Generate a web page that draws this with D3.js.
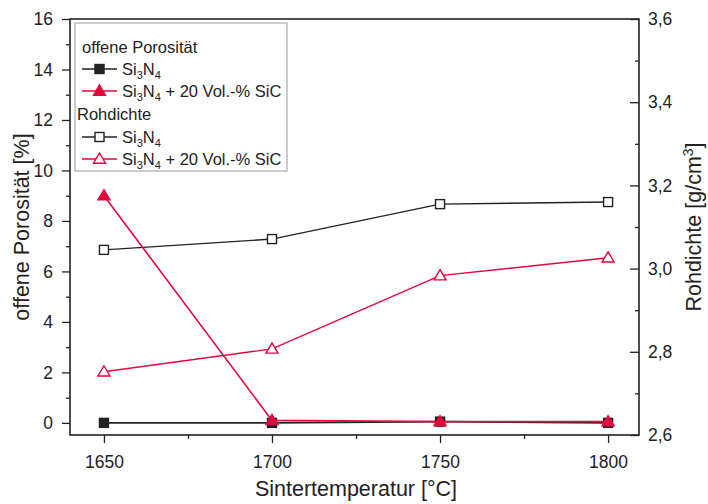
<!DOCTYPE html>
<html><head><meta charset="utf-8">
<script src="https://cdn.jsdelivr.net/npm/d3@7"></script>
<style>body{margin:0;background:#fff}text{font-family:"Liberation Sans",Arial,sans-serif}</style>
</head><body><svg id="c" width="708" height="504"></svg>
<script>
const temps = [1650, 1700, 1750, 1800];
const porSi3N4 = [0, 0, 0.05, 0];
const porSiC = [9.0, 0.1, 0.05, 0.05];
const densSi3N4 = [3.045, 3.071, 3.155, 3.16];
const densSiC = [2.752, 2.807, 2.983, 3.026];
const xTicks = [1650, 1700, 1750, 1800];
const yLeftTicks = [0, 2, 4, 6, 8, 10, 12, 14, 16];
const yRightTicks = [2.6, 2.8, 3.0, 3.2, 3.4, 3.6];

const red = "#e2063d";
const L = 70, R = 639, T = 19, B = 435;
const svg = d3.select("#c");
const x = d3.scaleLinear().domain([1639.9, 1809.2]).range([L, R]);
const yL = d3.scaleLinear().domain([-0.48, 16]).range([B, T]);
const yR = d3.scaleLinear().domain([2.6, 3.6]).range([B, T]);
const fmtC = d => d.toFixed(1).replace(".", ",");

// frame
svg.append("rect").attr("x", L).attr("y", T).attr("width", R - L).attr("height", B - T)
  .attr("fill", "none").attr("stroke", "#222").attr("stroke-width", 1.6);

// bottom axis
const gx = svg.append("g").attr("transform", `translate(0,${B})`)
  .call(d3.axisBottom(x).tickValues(xTicks).tickSize(8).tickPadding(8).tickFormat(d3.format("d")));
svg.append("g").attr("transform", `translate(0,${B})`)
  .call(d3.axisBottom(x).tickValues([1675, 1725, 1775]).tickSize(4).tickFormat(""));
// left axis
const gl = svg.append("g").attr("transform", `translate(${L},0)`)
  .call(d3.axisLeft(yL).tickValues(yLeftTicks).tickSize(8).tickPadding(9).tickFormat(d3.format("d")));
svg.append("g").attr("transform", `translate(${L},0)`)
  .call(d3.axisLeft(yL).tickValues([1, 3, 5, 7, 9, 11, 13, 15]).tickSize(4).tickFormat(""));
// right axis (ticks inward)
const gr = svg.append("g").attr("transform", `translate(${R},0)`)
  .call(d3.axisRight(yR).tickValues(yRightTicks).tickSize(-9).tickPadding(9).tickFormat(fmtC));
svg.append("g").attr("transform", `translate(${R},0)`)
  .call(d3.axisRight(yR).tickValues([2.7, 2.9, 3.1, 3.3, 3.5]).tickSize(-4).tickFormat(""));

svg.selectAll(".domain").remove();
svg.selectAll(".tick line").attr("stroke", "#222").attr("stroke-width", 1.3);
svg.selectAll(".tick text").attr("fill", "#222").style("font-size", "17.5px");
gx.selectAll(".tick text").attr("dy", "0.95em");

// axis titles
svg.append("text").attr("transform", `translate(29,${(T + B) / 2}) rotate(-90)`)
  .attr("text-anchor", "middle").style("font-size", "21.5px").attr("fill", "#222").text("offene Porosität [%]");
const rt = svg.append("text").attr("transform", `translate(701,${(T + B) / 2}) rotate(-90)`)
  .attr("text-anchor", "middle").style("font-size", "21.5px").attr("fill", "#222");
rt.append("tspan").text("Rohdichte [g/cm");
rt.append("tspan").attr("dy", -8).style("font-size", "14px").text("3");
rt.append("tspan").attr("dy", 8).text("]");
svg.append("text").attr("x", 356).attr("y", 496).attr("text-anchor", "middle")
  .style("font-size", "21.5px").attr("fill", "#222").text("Sintertemperatur [°C]");

// markers
function marker(g, type, cx, cy, color, filled) {
  if (type === "sq") {
    g.append("rect").attr("x", cx - 4.5).attr("y", cy - 4.5).attr("width", 9).attr("height", 9)
      .attr("fill", filled ? color : "#fff").attr("stroke", color).attr("stroke-width", 1.4);
  } else {
    const s = 6;
    g.append("path").attr("d", `M${cx},${cy - s}L${cx + s},${cy + s * 0.7}L${cx - s},${cy + s * 0.7}Z`)
      .attr("fill", filled ? color : "#fff").attr("stroke", color).attr("stroke-width", 1.4);
  }
}
function series(vals, yS, color, type, filled, lw) {
  const g = svg.append("g");
  const pts = temps.map((t, i) => [x(t), yS(vals[i])]);
  g.append("path").attr("d", d3.line()(pts)).attr("fill", "none").attr("stroke", color).attr("stroke-width", lw);
  pts.forEach(p => marker(g, type, p[0], p[1], color, filled));
}
series(densSi3N4, yR, "#222", "sq", false, 1.4);
series(densSiC, yR, red, "tri", false, 1.4);
series(porSi3N4, yL, "#222", "sq", true, 1.6);
series(porSiC, yL, red, "tri", true, 1.6);

// legend
const lg = svg.append("g");
lg.append("rect").attr("x", 75).attr("y", 23).attr("width", 212).attr("height", 148)
  .attr("fill", "#fff").attr("stroke", "#999").attr("stroke-width", 1);
const items = [
  {y: 47, title: "offene Porosität", tx: 82},
  {y: 69, color: "#222", type: "sq", filled: true, sic: false},
  {y: 91, color: red, type: "tri", filled: true, sic: true},
  {y: 114, title: "Rohdichte", tx: 77},
  {y: 137, color: "#222", type: "sq", filled: false, sic: false},
  {y: 159, color: red, type: "tri", filled: false, sic: true},
];
items.forEach(it => {
  if (it.title) {
    lg.append("text").attr("x", it.tx).attr("y", it.y + 6).style("font-size", "16.5px").attr("fill", "#222").text(it.title);
    return;
  }
  lg.append("line").attr("x1", 82).attr("x2", 117).attr("y1", it.y).attr("y2", it.y)
    .attr("stroke", it.color).attr("stroke-width", 1.5);
  marker(lg, it.type, 99.5, it.y, it.color, it.filled);
  const t = lg.append("text").attr("x", 122).attr("y", it.y + 6).style("font-size", "16.5px").attr("fill", "#222");
  t.append("tspan").text("Si");
  t.append("tspan").attr("dy", 4).style("font-size", "11px").text("3");
  t.append("tspan").attr("dy", -4).text("N");
  t.append("tspan").attr("dy", 4).style("font-size", "11px").text("4");
  if (it.sic) t.append("tspan").attr("dy", -4).text(" + 20 Vol.-% SiC");
});
</script></body></html>
